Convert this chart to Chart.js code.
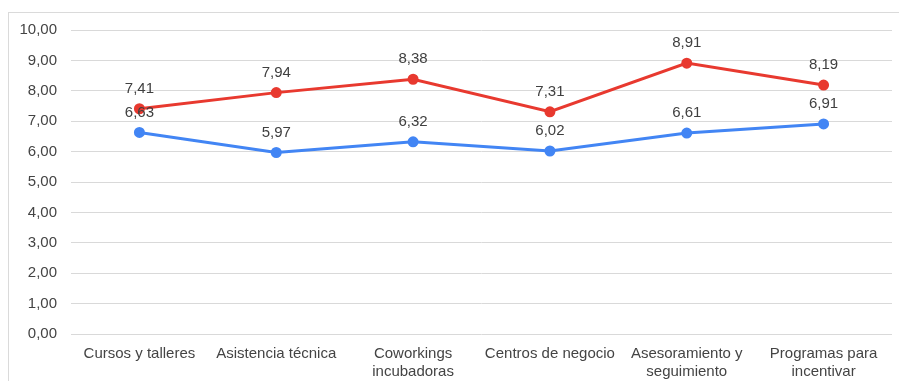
<!DOCTYPE html>
<html lang="es">
<head>
<meta charset="UTF-8">
<title>Valoración</title>
<script src="https://cdn.jsdelivr.net/npm/chart.js"></script>
<style>
  body { margin: 0; background: #fff; }
  #frame { position: absolute; left: 8px; top: 12px; width: 900px; height: 380px; border: 1px solid #dadada; }
  #wrap { position: absolute; left: 9px; top: 13px; width: 890px; height: 368px; }
</style>
</head>
<body>
<div id="frame"></div>
<div id="wrap"><canvas id="myChart"></canvas></div>
<script>
// categories (multi-line labels)
const categories = [
    'Cursos y talleres',
    'Asistencia técnica',
    ['Coworkings', 'incubadoras'],
    'Centros de negocio',
    ['Asesoramiento y', 'seguimiento'],
    ['Programas para', 'incentivar']
];
const redValues = [7.41, 7.94, 8.38, 7.31, 8.91, 8.19];
const blueValues = [6.63, 5.97, 6.32, 6.02, 6.61, 6.91];
const yTicks = [0, 1, 2, 3, 4, 5, 6, 7, 8, 9, 10];

const fmt = v => v.toFixed(2).replace('.', ',');

// draw value labels above points
const valueLabels = {
    id: 'valueLabels',
    afterDatasetsDraw(chart) {
        const ctx = chart.ctx;
        ctx.save();
        ctx.font = '15px "Liberation Sans", Arial, sans-serif';
        ctx.fillStyle = '#404040';
        ctx.textAlign = 'center';
        ctx.textBaseline = 'middle';
        chart.data.datasets.forEach((ds, i) => {
            chart.getDatasetMeta(i).data.forEach((pt, j) => {
                ctx.fillText(fmt(ds.data[j]), pt.x, pt.y - 20);
            });
        });
        ctx.restore();
    }
};

const ctx = document.getElementById('myChart').getContext('2d');
new Chart(ctx, {
    type: 'line',
    data: {
        labels: categories,
        datasets: [{
            label: 'Serie 1',
            data: redValues,
            borderColor: '#e8392f',
            backgroundColor: '#e8392f',
            borderWidth: 3,
            pointRadius: 4,
            fill: false
        }, {
            label: 'Serie 2',
            data: blueValues,
            borderColor: '#4285f4',
            backgroundColor: '#4285f4',
            borderWidth: 3,
            pointRadius: 4,
            fill: false
        }]
    },
    options: {
        responsive: true,
        maintainAspectRatio: false,
        animation: false,
        layout: { padding: { top: 17, right: 5, left: 0, bottom: 0 } },
        plugins: {
            legend: { display: false },
            tooltip: { enabled: false }
        },
        scales: {
            x: {
                offset: true,
                grid: { display: false },
                border: { display: false },
                ticks: {
                    color: '#444',
                    font: { family: '"Liberation Sans", Arial, sans-serif', size: 15 },
                    maxRotation: 0,
                    autoSkip: false,
                    padding: 3
                },
                afterFit(scale) {
                    scale.height = 47;
                    scale.paddingLeft = 0;
                    scale.paddingRight = 0;
                }
            },
            y: {
                min: 0,
                max: 10,
                afterBuildTicks(scale) { scale.ticks = yTicks.map(v => ({ value: v })); },
                grid: { color: '#d9d9d9', lineWidth: 1, drawTicks: false },
                border: { display: false },
                ticks: {
                    color: '#444',
                    font: { family: '"Liberation Sans", Arial, sans-serif', size: 15 },
                    padding: 14,
                    callback: v => fmt(v)
                },
                afterFit(scale) {
                    scale.width = 62;
                    scale.paddingTop = 0;
                    scale.paddingBottom = 0;
                }
            }
        }
    },
    plugins: [valueLabels]
});
</script>
</body>
</html>
